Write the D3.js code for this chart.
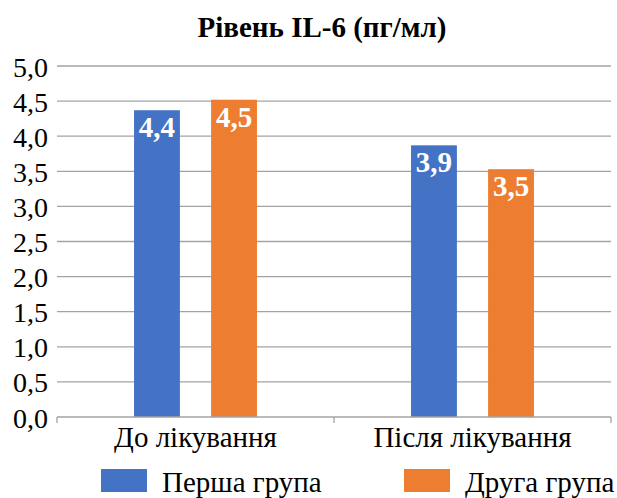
<!DOCTYPE html>
<html>
<head>
<meta charset="utf-8">
<script src="https://cdn.jsdelivr.net/npm/d3@7"></script>
<style>
  html, body { margin: 0; padding: 0; background: #fff; }
  svg { display: block; }
</style>
</head>
<body>
<svg id="chart" width="617" height="498"></svg>
<script>
// Chart data
const categories = ["До лікування", "Після лікування"];
const seriesNames = ["Перша група", "Друга група"];
const firstGroup = [4.37, 3.87];
const secondGroup = [4.52, 3.53];
const yTicks = [0, 0.5, 1, 1.5, 2, 2.5, 3, 3.5, 4, 4.5, 5];
const colors = ["#4472C4", "#ED7D31"];
const title = "Рівень IL-6 (пг/мл)";

const FONT = "'Liberation Serif', 'Times New Roman', serif";

const seriesValues = [firstGroup, secondGroup];
const rows = categories.map((c, i) => ({
  category: c,
  values: seriesNames.map((s, j) => ({ series: s, value: seriesValues[j][i], idx: j }))
}));

const svg = d3.select("#chart");
const margin = { left: 57, right: 6, top: 66, bottom: 81 };
const W = 617, H = 498;

const x0 = d3.scaleBand().domain(categories).range([margin.left, W - margin.right]).padding(0);
const x1 = d3.scaleBand().domain(seriesNames).range([0, x0.bandwidth()])
  .paddingInner(0.405).paddingOuter(1.0);
const y = d3.scaleLinear().domain([0, 5]).range([H - margin.bottom, margin.top]);
const fmt = v => d3.format(".1f")(v).replace(".", ",");

// Title
svg.append("text")
  .attr("x", 322).attr("y", 37)
  .attr("text-anchor", "middle")
  .style("font-family", FONT)
  .style("font-weight", "bold")
  .style("font-size", "29px")
  .text(title);

// Horizontal gridlines
svg.append("g")
  .selectAll("line")
  .data(yTicks.filter(t => t > 0))
  .join("line")
  .attr("x1", margin.left).attr("x2", W - margin.right)
  .attr("y1", d => y(d)).attr("y2", d => y(d))
  .attr("stroke", "#a3a3a3").attr("stroke-width", 1.3);

// Y axis labels
const yAxis = d3.axisLeft(y).tickValues(yTicks).tickFormat(fmt).tickSize(0).tickPadding(9);
const gy = svg.append("g").attr("transform", `translate(${margin.left},0)`).call(yAxis);
gy.select(".domain").remove();
gy.selectAll("text")
  .style("font-family", FONT)
  .style("font-size", "28px")
  .attr("fill", "#000")
  .attr("dy", "0.36em");

// Bars
const groups = svg.append("g")
  .selectAll("g")
  .data(rows)
  .join("g")
  .attr("transform", d => `translate(${x0(d.category)},0)`);

groups.selectAll("rect")
  .data(d => d.values)
  .join("rect")
  .attr("x", d => x1(d.series))
  .attr("y", d => y(d.value))
  .attr("width", x1.bandwidth())
  .attr("height", d => y(0) - y(d.value))
  .attr("fill", d => colors[d.idx]);

// Value labels inside bar tops
groups.selectAll("text.val")
  .data(d => d.values)
  .join("text")
  .attr("class", "val")
  .attr("x", d => x1(d.series) + x1.bandwidth() / 2)
  .attr("y", d => y(d.value) + 27)
  .attr("text-anchor", "middle")
  .style("font-family", FONT)
  .style("font-weight", "bold")
  .style("font-size", "29px")
  .attr("fill", "#fff")
  .text(d => fmt(d.value));

// X axis
const xAxis = d3.axisBottom(x0).tickSize(0).tickPadding(8);
const gx = svg.append("g").attr("transform", `translate(0,${y(0)})`).call(xAxis);
gx.select(".domain").attr("stroke", "#a3a3a3").attr("stroke-width", 1.3)
  .attr("d", `M${margin.left},0H${W - margin.right}`);
gx.selectAll("text")
  .style("font-family", FONT)
  .style("font-size", "29px")
  .attr("fill", "#000")
  .attr("dy", "0.75em");
// Category boundary ticks
const boundaries = [margin.left].concat(categories.map(c => x0(c) + x0.bandwidth()));
gx.selectAll("line.bound")
  .data(boundaries)
  .join("line")
  .attr("class", "bound")
  .attr("x1", d => d).attr("x2", d => d)
  .attr("y1", 0).attr("y2", 6)
  .attr("stroke", "#a3a3a3").attr("stroke-width", 1.3);

// Legend
const legendX = [101, 404];
const legend = svg.append("g")
  .selectAll("g")
  .data(seriesNames)
  .join("g")
  .attr("transform", (d, i) => `translate(${legendX[i]},469)`);
legend.append("rect")
  .attr("width", 46).attr("height", 23)
  .attr("fill", (d, i) => colors[i]);
legend.append("text")
  .attr("x", 61).attr("y", 23)
  .style("font-family", FONT)
  .style("font-size", "29px")
  .attr("fill", "#000")
  .text(d => d);
</script>
</body>
</html>
